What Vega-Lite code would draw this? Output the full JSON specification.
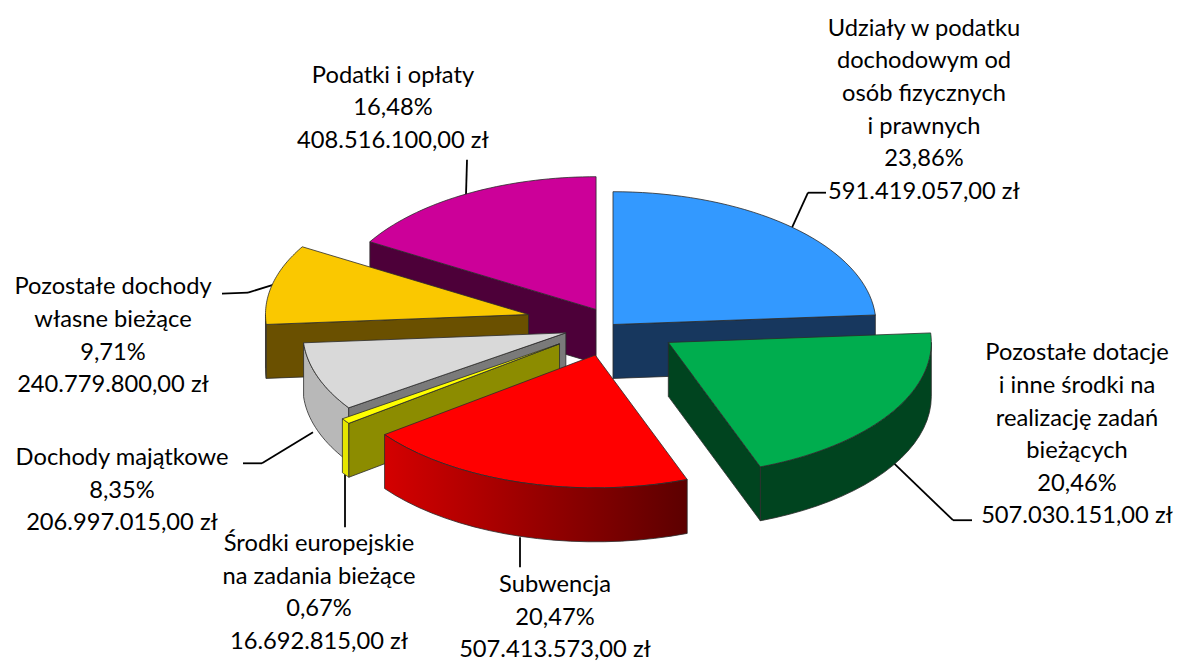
{"$schema":"https://vega.github.io/schema/vega-lite/v6.json","width":1177,"height":662,"autosize":{"type":"fit","contains":"padding"},"padding":0,"background":"white","view":{"stroke":null},
"datasets":{"slices":[
{"seq":7,"name":"Podatki i opłaty","amount":408516100,"percent":16.48,"explode":0.13,"label":"Podatki i opłaty\n16,48%\n408.516.100,00 zł"},
{"seq":1,"name":"Udziały w podatku","amount":591419057,"percent":23.86,"explode":0,"label":"Udziały w podatku\ndochodowym od\nosób fizycznych\n i prawnych\n23,86%\n591.419.057,00 zł"},
{"seq":6,"name":"Pozostałe dochody własne","amount":240779800,"percent":9.71,"explode":0.33,"label":"Pozostałe dochody\nwłasne bieżące\n9,71%\n240.779.800,00 zł"},
{"seq":5,"name":"Dochody majątkowe","amount":206997015,"percent":8.35,"explode":0.19,"label":"Dochody majątkowe\n8,35%\n206.997.015,00 zł"},
{"seq":4,"name":"Środki europejskie","amount":16692815,"percent":0.67,"explode":0.25,"label":"Środki europejskie\nna zadania bieżące\n0,67%\n16.692.815,00 zł"},
{"seq":2,"name":"Pozostałe dotacje","amount":507030151,"percent":20.46,"explode":0.25,"label":"Pozostałe dotacje\ni inne środki na\nrealizację zadań\nbieżących\n20,46%\n507.030.151,00 zł"},
{"seq":3,"name":"Subwencja","amount":507413573,"percent":20.47,"explode":0.24,"label":"Subwencja\n20,47%\n507.413.573,00 zł"}
],"one":[{"note":"leader"}]},
"data":{"name":"slices"},
"transform":[
{"joinaggregate":[{"op":"sum","field":"amount","as":"total"}]},
{"window":[{"op":"sum","field":"amount","as":"cum"}],"sort":[{"field":"seq","order":"ascending"}],"frame":[null,0]},
{"calculate":"2*PI*datum.cum/datum.total","as":"a1"},
{"calculate":"datum.a1-2*PI*datum.amount/datum.total","as":"a0"},
{"calculate":"(datum.a0+datum.a1)/2","as":"m"},
{"calculate":"datum.explode*sin(datum.m)","as":"ax"},
{"calculate":"datum.explode*cos(datum.m)","as":"ay"},
{"calculate":"max(datum.a0,PI/2)","as":"va"},
{"calculate":"min(datum.a1,3*PI/2)","as":"vb"},
{"calculate":"['outer','start','end','top']","as":"part"},
{"flatten":["part"]},
{"filter":"datum.part==='top'||(datum.part==='outer'&&datum.vb>datum.va)||(datum.part==='start'&&sin(datum.a0)<-0.000001)||(datum.part==='end'&&sin(datum.a1)>0.000001)"},
{"calculate":"datum.seq+datum.part","as":"poly"},
{"calculate":"sequence(0,(datum.part==='top'||datum.part==='outer')?43:5)","as":"k"},
{"flatten":["k"]},
{"calculate":"datum.part==='top'?datum.a0+(datum.a1-datum.a0)*(datum.k-1)/40:datum.part==='outer'?datum.va+(datum.vb-datum.va)*(datum.k===42?0:datum.k<=20?datum.k/20:(41-datum.k)/20):datum.part==='start'?datum.a0:datum.a1","as":"ang"},
{"calculate":"datum.part==='top'?(datum.k===0||datum.k===42):datum.part==='outer'?false:(datum.k===0||datum.k===3||datum.k===4)","as":"atApex"},
{"calculate":"datum.part==='outer'?(datum.k>=21&&datum.k<=41?1:0):datum.part==='top'?0:(datum.k===2||datum.k===3?1:0)","as":"low"},
{"calculate":"datum.atApex?datum.ax:datum.ax+sin(datum.ang)","as":"px"},
{"calculate":"(datum.atApex?datum.ay:datum.ay+cos(datum.ang))-datum.low*0.406","as":"py"}
],
"layer":[
{"data":{"name":"one"},"mark":{"type":"rule","stroke":"black","strokeWidth":1.8},"encoding":{"x":{"datum":0.8099,"type":"quantitative","scale":{"domain":[-2.3308,2.1445]},"axis":null},"y":{"datum":0.9925,"type":"quantitative","scale":{"domain":[-2.5338,2.4436]},"axis":null},"x2":{"datum":0.7414},"y2":{"datum":0.9925}}},
{"data":{"name":"one"},"mark":{"type":"rule","stroke":"black","strokeWidth":1.8},"encoding":{"x":{"datum":0.7414,"type":"quantitative","scale":{"domain":[-2.3308,2.1445]},"axis":null},"y":{"datum":0.9925,"type":"quantitative","scale":{"domain":[-2.5338,2.4436]},"axis":null},"x2":{"datum":0.6806},"y2":{"datum":0.7293}}},
{"data":{"name":"one"},"mark":{"type":"rule","stroke":"black","strokeWidth":1.8},"encoding":{"x":{"datum":1.365,"type":"quantitative","scale":{"domain":[-2.3308,2.1445]},"axis":null},"y":{"datum":-1.4737,"type":"quantitative","scale":{"domain":[-2.5338,2.4436]},"axis":null},"x2":{"datum":1.2928},"y2":{"datum":-1.4737}}},
{"data":{"name":"one"},"mark":{"type":"rule","stroke":"black","strokeWidth":1.8},"encoding":{"x":{"datum":1.2928,"type":"quantitative","scale":{"domain":[-2.3308,2.1445]},"axis":null},"y":{"datum":-1.4737,"type":"quantitative","scale":{"domain":[-2.5338,2.4436]},"axis":null},"x2":{"datum":1.0646},"y2":{"datum":-1.0376}}},
{"data":{"name":"one"},"mark":{"type":"rule","stroke":"black","strokeWidth":1.8},"encoding":{"x":{"datum":-0.3536,"type":"quantitative","scale":{"domain":[-2.3308,2.1445]},"axis":null},"y":{"datum":-1.6015,"type":"quantitative","scale":{"domain":[-2.5338,2.4436]},"axis":null},"x2":{"datum":-0.3536},"y2":{"datum":-1.827}}},
{"data":{"name":"one"},"mark":{"type":"rule","stroke":"black","strokeWidth":1.8},"encoding":{"x":{"datum":-1.019,"type":"quantitative","scale":{"domain":[-2.3308,2.1445]},"axis":null},"y":{"datum":-1.1278,"type":"quantitative","scale":{"domain":[-2.5338,2.4436]},"axis":null},"x2":{"datum":-1.019},"y2":{"datum":-1.5263}}},
{"data":{"name":"one"},"mark":{"type":"rule","stroke":"black","strokeWidth":1.8},"encoding":{"x":{"datum":-1.4068,"type":"quantitative","scale":{"domain":[-2.3308,2.1445]},"axis":null},"y":{"datum":-1.0451,"type":"quantitative","scale":{"domain":[-2.5338,2.4436]},"axis":null},"x2":{"datum":-1.3346},"y2":{"datum":-1.0451}}},
{"data":{"name":"one"},"mark":{"type":"rule","stroke":"black","strokeWidth":1.8},"encoding":{"x":{"datum":-1.3346,"type":"quantitative","scale":{"domain":[-2.3308,2.1445]},"axis":null},"y":{"datum":-1.0451,"type":"quantitative","scale":{"domain":[-2.5338,2.4436]},"axis":null},"x2":{"datum":-1.1407},"y2":{"datum":-0.812}}},
{"data":{"name":"one"},"mark":{"type":"rule","stroke":"black","strokeWidth":1.8},"encoding":{"x":{"datum":-1.4867,"type":"quantitative","scale":{"domain":[-2.3308,2.1445]},"axis":null},"y":{"datum":0.2331,"type":"quantitative","scale":{"domain":[-2.5338,2.4436]},"axis":null},"x2":{"datum":-1.3878},"y2":{"datum":0.2406}}},
{"data":{"name":"one"},"mark":{"type":"rule","stroke":"black","strokeWidth":1.8},"encoding":{"x":{"datum":-1.3878,"type":"quantitative","scale":{"domain":[-2.3308,2.1445]},"axis":null},"y":{"datum":0.2406,"type":"quantitative","scale":{"domain":[-2.5338,2.4436]},"axis":null},"x2":{"datum":-1.2776},"y2":{"datum":0.3083}}},
{"data":{"name":"one"},"mark":{"type":"rule","stroke":"black","strokeWidth":1.8},"encoding":{"x":{"datum":-0.5551,"type":"quantitative","scale":{"domain":[-2.3308,2.1445]},"axis":null},"y":{"datum":1.2406,"type":"quantitative","scale":{"domain":[-2.5338,2.4436]},"axis":null},"x2":{"datum":-0.5589},"y2":{"datum":0.9774}}},
{"transform":[{"filter":"datum.poly!=='3outer'"}],"mark":{"type":"line","stroke":"#2b2b2b","strokeWidth":0.8,"interpolate":"linear"},"encoding":{"x":{"field":"px","type":"quantitative","scale":{"domain":[-2.3308,2.1445]},"axis":null},"y":{"field":"py","type":"quantitative","scale":{"domain":[-2.5338,2.4436]},"axis":null},"detail":{"field":"poly","type":"nominal"},"order":{"field":"k","type":"quantitative"},"fill":{"field":"poly","type":"nominal","legend":null,"scale":{"domain":["1top","1end","2top","2end","2outer","3top","4top","4start","4outer","5top","5start","5outer","6top","6start","6outer","7top","7start"],"range":["#3399ff","#17375e","#00ad4e","#00441f","#00441f","#ff0000","#ffff00","#8c8c00","#e6e600","#d9d9d9","#7a7a7a","#b8b8b8","#fac800","#6a5000","#6a5000","#cc0099","#4d0039"]}}}},
{"transform":[{"filter":"datum.poly==='3outer'"}],"mark":{"type":"line","stroke":"#2b2b2b","strokeWidth":0.8,"fill":{"gradient":"linear","x1":0,"x2":1,"y1":0,"y2":0,"stops":[{"offset":0,"color":"#d40000"},{"offset":1,"color":"#5c0000"}]}},"encoding":{"x":{"field":"px","type":"quantitative","scale":{"domain":[-2.3308,2.1445]},"axis":null},"y":{"field":"py","type":"quantitative","scale":{"domain":[-2.5338,2.4436]},"axis":null},"order":{"field":"k","type":"quantitative"}}},
{"data":{"name":"slices"},"transform":[{"filter":"datum.seq===1"}],"mark":{"type":"text","font":"Lato","fontSize":23.7,"lineBreak":"\n","lineHeight":32.6,"align":"center","baseline":"middle","fill":"black"},"encoding":{"text":{"field":"label"},"x":{"datum":1.1825,"type":"quantitative","scale":{"domain":[-2.3308,2.1445]},"axis":null},"y":{"datum":2.2261,"type":"quantitative","scale":{"domain":[-2.5338,2.4436]},"axis":null}}},
{"data":{"name":"slices"},"transform":[{"filter":"datum.seq===2"}],"mark":{"type":"text","font":"Lato","fontSize":23.7,"lineBreak":"\n","lineHeight":32.6,"align":"center","baseline":"middle","fill":"black"},"encoding":{"text":{"field":"label"},"x":{"datum":1.7643,"type":"quantitative","scale":{"domain":[-2.3308,2.1445]},"axis":null},"y":{"datum":-0.2175,"type":"quantitative","scale":{"domain":[-2.5338,2.4436]},"axis":null}}},
{"data":{"name":"slices"},"transform":[{"filter":"datum.seq===3"}],"mark":{"type":"text","font":"Lato","fontSize":23.7,"lineBreak":"\n","lineHeight":32.6,"align":"center","baseline":"middle","fill":"black"},"encoding":{"text":{"field":"label"},"x":{"datum":-0.2205,"type":"quantitative","scale":{"domain":[-2.3308,2.1445]},"axis":null},"y":{"datum":-1.9619,"type":"quantitative","scale":{"domain":[-2.5338,2.4436]},"axis":null}}},
{"data":{"name":"slices"},"transform":[{"filter":"datum.seq===4"}],"mark":{"type":"text","font":"Lato","fontSize":23.7,"lineBreak":"\n","lineHeight":32.6,"align":"center","baseline":"middle","fill":"black"},"encoding":{"text":{"field":"label"},"x":{"datum":-1.1179,"type":"quantitative","scale":{"domain":[-2.3308,2.1445]},"axis":null},"y":{"datum":-1.6541,"type":"quantitative","scale":{"domain":[-2.5338,2.4436]},"axis":null}}},
{"data":{"name":"slices"},"transform":[{"filter":"datum.seq===5"}],"mark":{"type":"text","font":"Lato","fontSize":23.7,"lineBreak":"\n","lineHeight":32.6,"align":"center","baseline":"middle","fill":"black"},"encoding":{"text":{"field":"label"},"x":{"datum":-1.8669,"type":"quantitative","scale":{"domain":[-2.3308,2.1445]},"axis":null},"y":{"datum":-1.007,"type":"quantitative","scale":{"domain":[-2.5338,2.4436]},"axis":null}}},
{"data":{"name":"slices"},"transform":[{"filter":"datum.seq===6"}],"mark":{"type":"text","font":"Lato","fontSize":23.7,"lineBreak":"\n","lineHeight":32.6,"align":"center","baseline":"middle","fill":"black"},"encoding":{"text":{"field":"label"},"x":{"datum":-1.9011,"type":"quantitative","scale":{"domain":[-2.3308,2.1445]},"axis":null},"y":{"datum":0.2787,"type":"quantitative","scale":{"domain":[-2.5338,2.4436]},"axis":null}}},
{"data":{"name":"slices"},"transform":[{"filter":"datum.seq===7"}],"mark":{"type":"text","font":"Lato","fontSize":23.7,"lineBreak":"\n","lineHeight":32.6,"align":"center","baseline":"middle","fill":"black"},"encoding":{"text":{"field":"label"},"x":{"datum":-0.8365,"type":"quantitative","scale":{"domain":[-2.3308,2.1445]},"axis":null},"y":{"datum":1.8727,"type":"quantitative","scale":{"domain":[-2.5338,2.4436]},"axis":null}}}
]}
